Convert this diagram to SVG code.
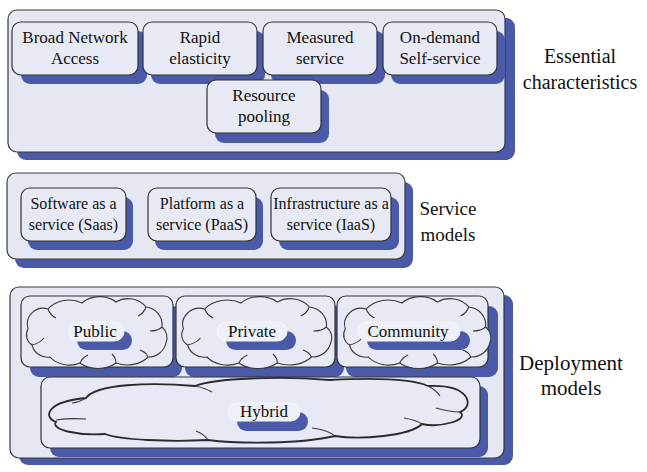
<svg xmlns="http://www.w3.org/2000/svg" width="647" height="472" viewBox="0 0 647 472" font-family="Liberation Serif, Times New Roman, DejaVu Serif, serif">
<style>
.sh{fill:#4a5aa8}
.panel{fill:#e5e8f2;stroke:#3a3a3a;stroke-width:1.2}
.box{fill:#e7eaf4;stroke:#333;stroke-width:1.2}
text{fill:#111;text-anchor:middle}
.t{font-size:17px}
.ts{font-size:16px}
.cloud{fill:#e7eaf4;stroke:#3a3a3a;stroke-width:1.1}
.crease{fill:none;stroke:#3a3a3a;stroke-width:1.1}
.pill{fill:#eef0f7;stroke:#f7f8fc;stroke-width:1}
.hyb{fill:#e7eaf4;stroke:#2a2a2a;stroke-width:1.8}
</style>
<defs>
<g id="cloudShape">
<path class="cloud" vector-effect="non-scaling-stroke" d="M6 32 A16 16 0 0 1 26 12 A26 22 0 0 1 60 6 A24 20 0 0 1 94 5 A22 20 0 0 1 124 10 A18 18 0 0 1 140 30 A14 14 0 0 1 144 46 A18 18 0 0 1 126 60 A26 20 0 0 1 94 66 A26 20 0 0 1 58 66 A24 20 0 0 1 28 60 A16 16 0 0 1 10 48 A12 12 0 0 1 6 32 Z"/>
<path class="crease" vector-effect="non-scaling-stroke" d="M10 48 Q18 46 22 41 M26 12 Q28 18 34 21 M124 10 Q122 16 116 19 M140 30 Q136 34 128 34 M126 60 Q124 55 118 53 M58 66 Q60 61 66 58 M94 66 Q94 61 90 57"/>
</g>
</defs>

<!-- Essential characteristics -->
<g id="panel-essential">
<rect class="sh" x="17" y="18" width="498" height="142" rx="9"/>
<rect class="panel" x="8" y="10" width="497" height="142" rx="9"/>
</g>
<g id="node-broad">
<rect class="sh" x="21" y="31" width="126" height="53" rx="9"/>
<rect class="box" x="12" y="22" width="126" height="53" rx="9"/>
<text class="t" x="75" y="43">Broad Network</text>
<text class="t" x="75" y="64">Access</text>
</g>
<g id="node-rapid">
<rect class="sh" x="151" y="31" width="114" height="53" rx="9"/>
<rect class="box" x="143" y="22" width="114" height="53" rx="9"/>
<text class="t" x="200" y="43">Rapid</text>
<text class="t" x="200" y="64">elasticity</text>
</g>
<g id="node-measured">
<rect class="sh" x="271" y="31" width="114" height="53" rx="9"/>
<rect class="box" x="263" y="22" width="114" height="53" rx="9"/>
<text class="t" x="320" y="43">Measured</text>
<text class="t" x="320" y="64">service</text>
</g>
<g id="node-ondemand">
<rect class="sh" x="391" y="31" width="114" height="53" rx="9"/>
<rect class="box" x="383" y="22" width="114" height="53" rx="9"/>
<text class="t" x="440" y="43">On-demand</text>
<text class="t" x="440" y="64">Self-service</text>
</g>
<g id="node-pooling">
<rect class="sh" x="215" y="90" width="114" height="53" rx="9"/>
<rect class="box" x="207" y="80" width="114" height="53" rx="9"/>
<text class="t" x="264" y="101">Resource</text>
<text class="t" x="264" y="122">pooling</text>
</g>
<g id="label-essential">
<text font-size="20" x="580" y="63">Essential</text>
<text font-size="20" x="580" y="89">characteristics</text>
</g>

<!-- Service models -->
<g id="panel-service">
<rect class="sh" x="15" y="182" width="398" height="86" rx="9"/>
<rect class="panel" x="7" y="173" width="398" height="86" rx="9"/>
</g>
<g id="node-saas">
<rect class="sh" x="28" y="197" width="105" height="53" rx="9"/>
<rect class="box" x="21" y="188" width="105" height="53" rx="9"/>
<text class="ts" x="73.5" y="209">Software as a</text>
<text class="ts" x="73.5" y="230">service (Saas)</text>
</g>
<g id="node-paas">
<rect class="sh" x="155" y="197" width="108" height="53" rx="9"/>
<rect class="box" x="148" y="188" width="108" height="53" rx="9"/>
<text class="ts" x="202" y="209">Platform as a</text>
<text class="ts" x="202" y="230">service (PaaS)</text>
</g>
<g id="node-iaas">
<rect class="sh" x="279" y="197" width="120" height="53" rx="9"/>
<rect class="box" x="271" y="188" width="120" height="53" rx="9"/>
<text class="ts" x="331" y="209">Infrastructure as a</text>
<text class="ts" x="331" y="230">service (IaaS)</text>
</g>
<g id="label-service">
<text font-size="19" x="448" y="215">Service</text>
<text font-size="19" x="448" y="241">models</text>
</g>

<!-- Deployment models -->
<g id="panel-deployment">
<rect class="sh" x="19" y="295" width="494" height="170" rx="9"/>
<rect class="panel" x="10" y="287" width="494" height="171" rx="9"/>
</g>
<g id="node-public">
<rect class="sh" x="30" y="306" width="152" height="71" rx="9"/>
<rect class="box" x="21" y="296" width="152" height="71" rx="9"/>
<use href="#cloudShape" transform="translate(22,297)"/>
<rect class="sh" x="77" y="331" width="55" height="19" rx="9.5"/>
<rect class="pill" x="68" y="322" width="56" height="19" rx="9.5"/>
<text class="t" x="95" y="337">Public</text>
</g>
<g id="node-private">
<rect class="sh" x="185" y="306" width="159" height="71" rx="9"/>
<rect class="box" x="176" y="296" width="159" height="71" rx="9"/>
<use href="#cloudShape" transform="translate(177,297) scale(1.067,1)"/>
<rect class="sh" x="226" y="331" width="70" height="19" rx="9.5"/>
<rect class="pill" x="217" y="322" width="70" height="19" rx="9.5"/>
<text class="t" x="252" y="337">Private</text>
</g>
<g id="node-community">
<rect class="sh" x="346" y="306" width="152" height="71" rx="9"/>
<rect class="box" x="337" y="296" width="151" height="71" rx="9"/>
<use href="#cloudShape" transform="translate(339,297) scale(1.047,1)"/>
<rect class="sh" x="367" y="331" width="103" height="19" rx="9.5"/>
<rect class="pill" x="358" y="322" width="102" height="19" rx="9.5"/>
<text class="t" x="408" y="337">Community</text>
</g>
<g id="node-hybrid">
<rect class="sh" x="50" y="386" width="438" height="71" rx="9"/>
<rect class="box" x="41" y="377" width="439" height="71" rx="9"/>
<path class="hyb" d="M86 398 C96 384 150 382 195 386 C215 378 280 376 330 380 C370 378 410 378 428 386 C470 384 475 406 460 412 C470 420 440 428 422 424 C410 436 360 440 335 436 C300 444 240 444 208 440 C170 442 120 440 105 434 C80 436 50 430 56 422 C44 418 44 402 86 398 Z"/>
<path class="crease" stroke-width="1.6" d="M56 420 Q70 418 86 419 M86 398 Q80 402 72 403 M195 386 Q205 388 212 392 M428 386 Q436 390 440 396 M460 412 Q450 412 436 408 M422 424 Q416 420 404 418 M335 436 Q328 430 312 428 M208 440 Q204 434 196 431"/>
<rect class="sh" x="237" y="412" width="71" height="19" rx="9.5"/>
<rect class="pill" x="228" y="403" width="72" height="18" rx="9"/>
<text class="t" x="264" y="417">Hybrid</text>
</g>
<g id="label-deployment">
<text font-size="21" x="571" y="370">Deployment</text>
<text font-size="21" x="571" y="395">models</text>
</g>
<g id="connectors"></g>
</svg>
